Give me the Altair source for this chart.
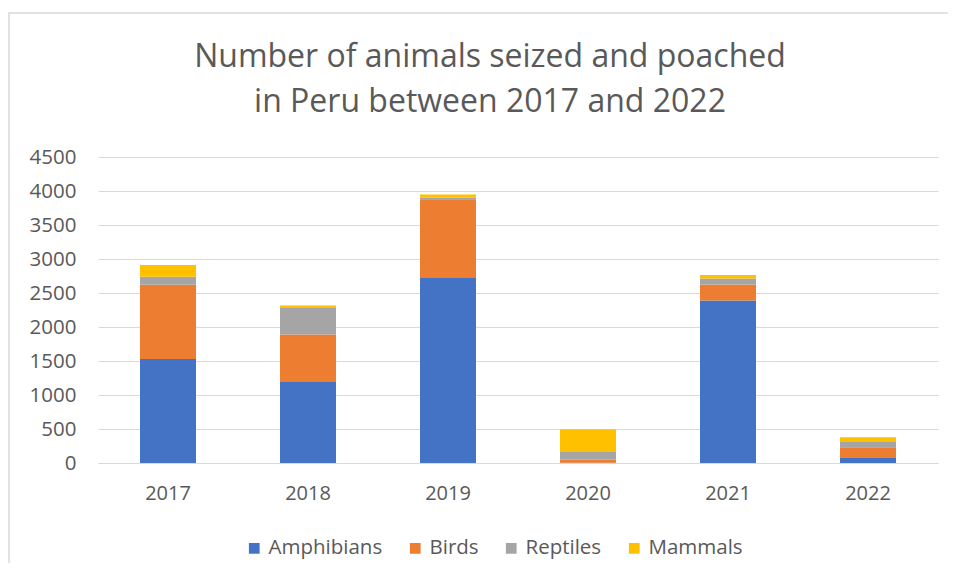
import altair as alt
import pandas as pd

years = ["2017", "2018", "2019", "2020", "2021", "2022"]
species = ["Amphibians", "Birds", "Reptiles", "Mammals"]
amphibians = [1530, 1190, 2720, 5, 2390, 75]
birds = [1090, 700, 1160, 45, 235, 155]
reptiles = [120, 390, 25, 110, 90, 90]
mammals = [170, 35, 45, 335, 50, 60]
colors = ["#4472C4", "#ED7D31", "#A5A5A5", "#FFC000"]
y_ticks = list(range(0, 4501, 500))

rows = []
for s_i, (name, vals) in enumerate(zip(species, [amphibians, birds, reptiles, mammals])):
    for y, v in zip(years, vals):
        rows.append({"Year": y, "Species": name, "Count": v, "order": s_i})
df = pd.DataFrame(rows)

FONT = "Open Sans"
TXT = "#595959"

bars = alt.Chart(df).mark_bar().encode(
    x=alt.X("Year:N", sort=years,
            scale=alt.Scale(paddingInner=0.6, paddingOuter=0.3),
            axis=alt.Axis(title=None, labelAngle=0, ticks=False, domain=True,
                          domainColor="#d9d9d9", labelPadding=20,
                          labelFontSize=20, labelColor=TXT, labelFont=FONT)),
    y=alt.Y("Count:Q", stack="zero",
            scale=alt.Scale(domain=[0, 4500], nice=False),
            axis=alt.Axis(title=None, values=y_ticks, ticks=False, domain=False,
                          format="d", gridColor="#d9d9d9", labelPadding=22,
                          labelFontSize=20.5, labelColor=TXT, labelFont=FONT)),
    color=alt.Color("Species:N", sort=species,
                    scale=alt.Scale(domain=species, range=colors),
                    legend=alt.Legend(title=None, orient="none", direction="horizontal",
                                      legendX=146, legendY=381, symbolType="square",
                                      symbolSize=115, symbolStrokeWidth=0,
                                      labelFontSize=20.5, labelColor=TXT, labelFont=FONT,
                                      columnPadding=22, labelOffset=4)),
    order=alt.Order("order:Q", sort="ascending"),
)

border = alt.Chart(pd.DataFrame({"k": [0]})).mark_rect(
    fill=None, stroke="#d9d9d9", strokeWidth=1.5, clip=False
).encode(
    x=alt.value(-89), x2=alt.value(857), y=alt.value(-144), y2=alt.value(420)
)

chart = alt.layer(border, bars).properties(
    width=840, height=306,
    padding={"left": 90, "top": 149, "right": 10, "bottom": 100},
    autosize=alt.AutoSizeParams(type="none"),
    title=alt.TitleParams(
        ["Number of animals seized and poached", "in Peru between 2017 and 2022"],
        anchor="middle", dx=-28, offset=-107, fontSize=32, font=FONT,
        fontWeight="normal", color=TXT, lineHeight=45,
    ),
).configure(background="white").configure_view(stroke=None)

chart.save("out.html", embed_options={"renderer": "svg", "actions": False})
